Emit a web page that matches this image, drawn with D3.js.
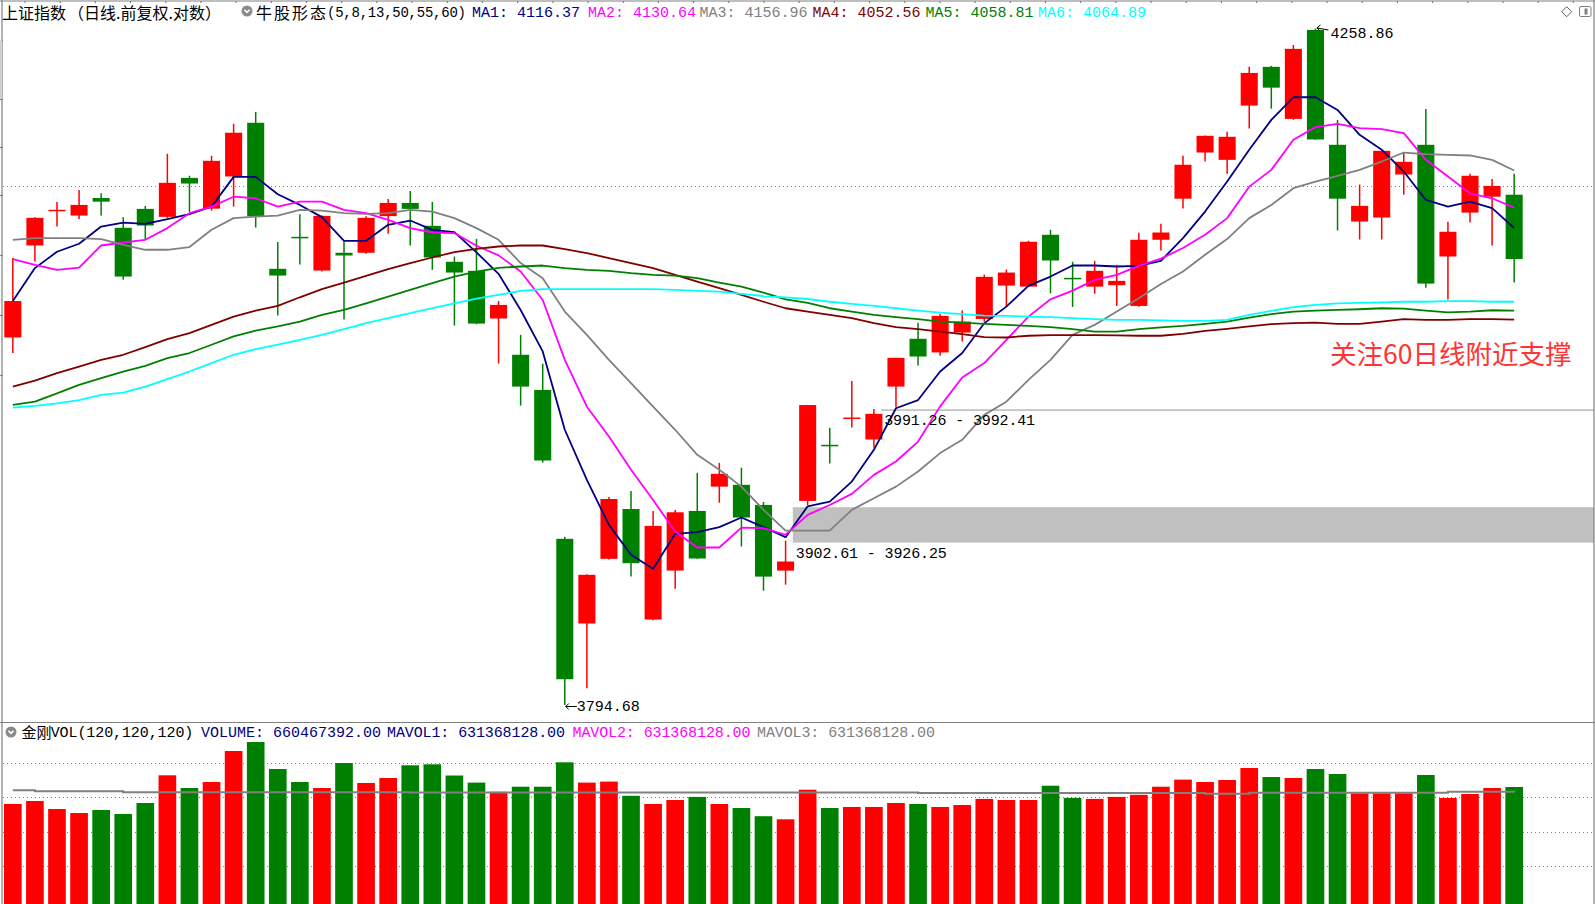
<!DOCTYPE html>
<html>
<head>
<meta charset="utf-8">
<title>上证指数 日线</title>
<style>
html, body { margin: 0; padding: 0; background: #fff; overflow: hidden; }
svg { display: block; }
text { white-space: pre; }
</style>
</head>
<body>
<svg id="mysvg" width="1595" height="904"></svg>
<script src="https://d3js.org/d3.v7.min.js"></script>
<script>

// daily bars, oldest first (前复权)
var opens  = [4040.2,4104.1,4128.4,4125.1,4137.5,4116.5,4129.8,4124.2,4151.7,4130.0,
              4152.7,4190.9,4087.8,4109.8,4086.6,4099.0,4099.0,4124.7,4134.0,4117.9,
              4092.7,4086.4,4053.3,4028.3,4004.2,3903.8,3847.8,3890.5,3923.7,3850.4,
              3882.7,3922.4,3938.7,3939.9,3926.4,3882.7,3929.1,3966.6,3984.7,3970.5,
              4006.5,4039.3,4029.9,4043.6,4053.0,4076.1,4075.4,4111.6,4081.2,4075.4,
              4076.4,4062.0,4108.1,4137.0,4169.7,4164.5,4203.2,4231.1,4193.7,4257.8,
              4175.2,4120.9,4123.7,4154.1,4175.2,4096.4,4127.2,4138.4,4139.8];
var highs  = [4095.3,4124.0,4134.7,4143.2,4140.8,4124.0,4131.9,4168.8,4153.2,4167.4,
              4190.2,4198.7,4106.5,4126.1,4125.2,4106.9,4124.7,4136.8,4142.5,4134.7,
              4096.4,4108.7,4065.4,4042.0,4022.1,3905.1,3880.2,3931.8,3935.8,3922.4,
              3923.1,3948.0,3954.7,3951.4,3928.4,3902.61,3994.0,3978.4,4010.4,3991.26,
              4026.3,4050.3,4056.5,4058.8,4083.8,4087.3,4107.4,4115.1,4092.7,4093.4,
              4090.6,4113.0,4119.3,4167.4,4181.8,4184.5,4231.1,4231.8,4246.9,4258.86,
              4193.0,4147.0,4171.1,4169.3,4200.8,4120.7,4154.6,4151.0,4154.6];
var lows   = [4029.5,4092.9,4117.4,4122.6,4125.1,4080.1,4108.1,4123.5,4127.7,4128.6,
              4131.4,4116.7,4055.3,4090.8,4085.9,4052.6,4098.3,4112.3,4104.1,4087.1,
              4048.4,4049.3,4022.3,3993.5,3954.9,3794.68,3805.6,3890.0,3878.7,3850.0,
              3870.6,3890.5,3927.9,3898.7,3869.4,3873.4,3926.25,3954.3,3978.6,3964.9,
              3992.41,4020.9,4027.6,4037.4,4051.2,4061.1,4075.2,4070.8,4061.3,4070.5,
              4062.0,4061.5,4100.6,4130.0,4163.3,4154.6,4186.8,4201.0,4193.0,4178.8,
              4114.6,4108.3,4108.3,4139.8,4074.7,4066.5,4120.2,4104.1,4078.2];
var closes = [4065.4,4123.5,4128.9,4132.6,4134.9,4082.4,4118.1,4148.2,4147.7,4163.8,
              4183.8,4124.7,4083.1,4109.5,4124.9,4097.1,4123.5,4134.0,4129.8,4095.7,
              4085.2,4049.8,4062.7,4006.5,3956.3,3811.4,3879.9,3930.4,3887.6,3912.4,
              3921.5,3890.7,3947.3,3918.0,3878.7,3888.7,3993.9,3966.2,3985.1,3987.9,
              4026.2,4027.1,4055.1,4051.2,4082.2,4085.2,4106.7,4093.6,4080.8,4086.4,
              4079.4,4108.1,4113.2,4161.0,4181.6,4180.9,4226.7,4216.1,4244.1,4179.0,
              4137.0,4131.9,4170.9,4163.1,4077.5,4113.7,4153.2,4146.0,4094.6];

// 牛股形态(5,8,13,50,55,60) lines as drawn
var ma1 = [4065.4,4088.3,4099.7,4105.3,4117.4,4120.2,4119.3,4122.6,4126.1,4131.4,
           4152.4,4152.4,4140.1,4132.6,4124.0,4107.4,4107.4,4118.6,4121.6,4115.1,
           4113.5,4099.3,4084.3,4059.2,4030.6,3977.1,3943.2,3913.1,3893.2,3883.9,
           3907.1,3908.3,3911.6,3918.0,3911.6,3904.9,3925.5,3928.6,3942.1,3963.5,
           3991.7,3997.3,4016.8,4029.5,4050.0,4061.5,4075.9,4082.4,4090.1,4090.1,
           4089.4,4089.9,4093.4,4109.3,4127.9,4149.1,4171.7,4193.0,4209.2,4209.2,
           4200.1,4182.3,4171.7,4156.2,4136.1,4131.4,4134.9,4130.3,4116.37];
var ma2 = [4094.6,4090.6,4087.1,4088.7,4104.1,4106.2,4108.1,4116.3,4126.8,4131.4,
           4138.4,4137.3,4131.4,4134.9,4134.9,4129.1,4126.8,4122.1,4116.3,4113.2,
           4112.8,4103.9,4097.2,4085.9,4066.1,4024.8,3992.8,3972.5,3950.0,3929.7,
           3908.7,3898.0,3898.0,3911.3,3910.9,3906.5,3919.8,3926.4,3933.8,3946.6,
           3955.6,3969.1,3993.0,4012.7,4022.6,4038.6,4054.6,4066.6,4072.6,4080.1,
           4083.6,4089.9,4094.9,4102.3,4111.6,4123.3,4145.5,4157.4,4178.8,4187.8,
           4190.2,4187.1,4186.4,4183.5,4164.5,4152.7,4140.8,4137.3,4130.64];
var ma3 = [4108.1,4109.3,4109.3,4109.3,4108.6,4104.6,4101.1,4101.1,4103.0,4115.1,
           4123.3,4124.4,4125.1,4129.1,4128.6,4126.8,4126.3,4126.8,4129.1,4127.9,
           4123.3,4116.3,4108.1,4091.8,4081.3,4058.1,4042.0,4024.8,4008.8,3992.8,
           3977.1,3960.1,3950.0,3938.7,3923.1,3909.3,3909.3,3909.3,3923.1,3930.9,
           3938.7,3948.9,3961.3,3970.3,3987.2,3996.2,4011.1,4024.8,4042.0,4048.9,
           4058.1,4067.3,4077.2,4085.9,4097.6,4108.6,4123.3,4132.6,4144.4,4149.1,
           4153.2,4157.4,4163.3,4169.7,4168.6,4168.1,4167.6,4164.5,4156.96];
var ma4 = [4006.5,4010.6,4015.7,4020.2,4024.8,4028.3,4033.6,4039.1,4043.2,4048.9,
           4054.6,4058.8,4062.0,4068.0,4073.6,4078.2,4082.9,4087.6,4091.8,4095.7,
           4099.5,4101.7,4103.4,4104.1,4104.1,4101.6,4098.8,4095.3,4091.8,4088.3,
           4083.6,4078.9,4074.3,4069.6,4064.9,4060.4,4058.1,4055.8,4053.5,4050.1,
           4047.3,4046.0,4044.3,4042.5,4040.5,4040.2,4041.4,4041.8,4041.8,4041.8,
           4041.6,4041.4,4041.4,4042.7,4044.8,4046.2,4047.8,4049.4,4050.1,4050.5,
           4049.6,4049.6,4051.2,4052.8,4052.4,4052.4,4052.8,4052.8,4052.56];
var ma5 = [3994.0,3996.2,4001.9,4007.7,4012.3,4016.8,4020.7,4026.0,4029.5,4035.2,
           4040.9,4045.0,4047.8,4051.2,4055.8,4059.2,4063.8,4068.4,4073.1,4077.8,
           4082.4,4085.9,4088.5,4089.4,4090.1,4088.3,4087.1,4086.4,4084.8,4083.6,
           4083.1,4081.3,4078.2,4075.4,4071.2,4066.6,4064.1,4060.4,4058.1,4055.8,
           4054.2,4052.8,4051.2,4050.5,4049.6,4048.9,4048.2,4047.3,4046.0,4044.3,
           4044.3,4046.0,4047.2,4048.2,4049.6,4051.2,4053.9,4056.3,4058.1,4058.8,
           4059.2,4059.7,4060.4,4060.1,4058.8,4057.6,4058.1,4059.0,4058.81];
var ma6 = [3992.1,3993.3,3995.1,3997.3,4000.8,4002.4,4006.5,4011.6,4016.8,4022.6,
           4028.3,4032.2,4035.2,4038.6,4042.0,4046.0,4050.1,4053.5,4057.0,4060.4,
           4063.8,4067.0,4069.6,4072.4,4073.6,4073.6,4073.6,4073.6,4073.6,4073.6,
           4073.1,4072.4,4071.9,4070.3,4068.9,4068.0,4066.8,4064.9,4063.4,4062.0,
           4060.4,4058.8,4057.4,4056.3,4055.3,4055.1,4054.6,4054.2,4053.5,4052.8,
           4052.4,4052.4,4052.0,4051.7,4051.7,4052.4,4055.8,4058.5,4061.1,4062.7,
           4063.8,4064.1,4064.5,4064.9,4064.9,4065.4,4065.4,4064.9,4064.89];
var maNames  = ["MA1","MA2","MA3","MA4","MA5","MA6"];
var maColors = ["#000080","#ff00ff","#808080","#800000","#008000","#00ffff"];

// 金刚VOL(120,120,120)
var volumes = [564100000,581100000,535700000,513000000,530100000,507400000,569700000,726800000,654800000,688800000,
               864500000,915500000,762500000,688800000,654800000,796500000,683100000,711500000,783500000,789100000,
               725600000,685400000,633200000,662100000,662100000,800500000,685400000,691100000,610600000,564100000,
               586700000,604300000,564100000,541400000,494900000,477300000,645100000,541400000,547100000,547100000,
               569700000,564100000,547100000,558400000,593000000,586700000,586700000,667800000,598700000,593000000,
               604300000,616200000,662100000,702400000,688800000,700100000,768200000,717100000,711500000,762500000,
               734100000,624700000,624700000,624700000,728500000,598100000,620800000,655000000,660467392];
var mavol = [641700000,636100000,636100000,636100000,636100000,630400000,630400000,630400000,630400000,630400000,
             630400000,630400000,630400000,630400000,630400000,630400000,630400000,630400000,629300000,629300000,
             629300000,629300000,629300000,629300000,629300000,629300000,629300000,629300000,629300000,629300000,
             629300000,629300000,629300000,629300000,629300000,629300000,629300000,629300000,629300000,629300000,
             629300000,627000000,627000000,627000000,627000000,627000000,627000000,627000000,627000000,627000000,
             627000000,627000000,627000000,627000000,622500000,622500000,628100000,628100000,628100000,628100000,
             628100000,628100000,628100000,628100000,628100000,633800000,633800000,633800000,631368128];
var volNames = ["MAVOL1","MAVOL2","MAVOL3"];
var volColors = ["#000080","#ff00ff","#808080"];

var priceGrid = [4146.0];
var volGrid = [212600000, 405300000, 603800000, 796500000];
// price gaps: [lower edge, upper edge, bar that opened the gap]
var gaps = [[3902.61, 3926.25, 36], [3991.26, 3992.41, 40]];
var note = "关注60日线附近支撑";

var CJK = "'Noto Sans CJK SC', 'Noto Sans', sans-serif";
var MONO = "'Liberation Mono', 'DejaVu Sans Mono', monospace";

var n = closes.length;
var svg = d3.select("#mysvg");

var x = d3.scaleBand().domain(d3.range(n)).range([4, 1523]).paddingInner(0.2).paddingOuter(0);
var xc = function(i){ return x(i) + x.bandwidth() / 2; };
var y = d3.scaleLog().domain([3794.68, 4258.86]).range([705, 28.5]);
var yv = d3.scaleLinear().domain([0, 1029000000]).range([903.5, 722]);
var up = function(i){ return closes[i] >= opens[i]; };
var col = function(i){ return up(i) ? "#ff0000" : "#008000"; };

svg.append("rect").attr("width", 1595).attr("height", 904).attr("fill", "#fff");

// dotted grid
svg.selectAll(".pg").data(priceGrid).enter().append("line")
   .attr("x1", 3).attr("x2", 1594)
   .attr("y1", function(d){ return Math.round(y(d)) + 0.5; })
   .attr("y2", function(d){ return Math.round(y(d)) + 0.5; })
   .attr("stroke", "#808080").attr("stroke-dasharray", "1,3");
svg.selectAll(".vg").data(volGrid).enter().append("line")
   .attr("x1", 3).attr("x2", 1594)
   .attr("y1", function(d){ return Math.round(yv(d)) + 0.5; })
   .attr("y2", function(d){ return Math.round(yv(d)) + 0.5; })
   .attr("stroke", "#808080").attr("stroke-dasharray", "1,3");

// gap bands
svg.selectAll(".gap").data(gaps).enter().append("rect")
   .attr("x", function(d){ return x(d[2]) - 6; })
   .attr("width", function(d){ return 1594 - (x(d[2]) - 6); })
   .attr("y", function(d){ return y(d[1]) + 2; })
   .attr("height", function(d){ return Math.max(1.5, y(d[0]) - y(d[1])); })
   .attr("fill", "#c0c0c0");

// candles
var idx = d3.range(n);
svg.selectAll(".wick").data(idx).enter().append("line")
   .attr("x1", xc).attr("x2", xc)
   .attr("y1", function(i){ return y(highs[i]); })
   .attr("y2", function(i){ return y(lows[i]); })
   .attr("stroke", col).attr("stroke-width", 1.5);
var bw = x.bandwidth() - 0.6;
svg.selectAll(".body").data(idx).enter().append("rect")
   .attr("x", function(i){ return xc(i) - bw / 2; })
   .attr("width", bw)
   .attr("y", function(i){
      var t = y(Math.max(opens[i], closes[i])), b = y(Math.min(opens[i], closes[i]));
      return b - t < 1.5 ? (t + b) / 2 - 0.75 : t; })
   .attr("height", function(i){ return Math.max(1.5, y(Math.min(opens[i], closes[i])) - y(Math.max(opens[i], closes[i]))); })
   .attr("fill", col);

// moving averages
var line = d3.line().x(function(d, i){ return xc(i); }).y(function(d){ return y(d); });
[ma1, ma2, ma3, ma4, ma5, ma6].forEach(function(s, k){
  svg.append("path").attr("d", line(s)).attr("fill", "none")
     .attr("stroke", maColors[k]).attr("stroke-width", 1.8).attr("stroke-linejoin", "round");
});

// volume
svg.selectAll(".vol").data(idx).enter().append("rect")
   .attr("x", function(i){ return x(i); })
   .attr("width", x.bandwidth())
   .attr("y", function(i){ return yv(volumes[i]); })
   .attr("height", function(i){ return 905 - yv(volumes[i]); })
   .attr("fill", col);
var vline = d3.line().x(function(d, i){ return xc(i); }).y(function(d){ return yv(d); }).curve(d3.curveStepAfter);
svg.append("path").attr("d", vline(mavol)).attr("fill", "none")
   .attr("stroke", "#808080").attr("stroke-width", 2);

// frame
var frame = svg.append("g").attr("stroke", "#808080").attr("stroke-width", 1.2).attr("fill", "none");
frame.append("line").attr("x1", 0).attr("x2", 1595).attr("y1", 1).attr("y2", 1);
frame.append("line").attr("x1", 0).attr("x2", 1595).attr("y1", 722.5).attr("y2", 722.5);
frame.append("line").attr("x1", 2).attr("x2", 2).attr("y1", 0).attr("y2", 904);
frame.append("line").attr("x1", 1594).attr("x2", 1594).attr("y1", 0).attr("y2", 904);
d3.range(45).forEach(function(k){
  frame.append("line").attr("x1", 25 + 35.19 * k).attr("x2", 25 + 35.19 * k).attr("y1", 1).attr("y2", 3);
});
[40, 99, 147, 195, 255, 315, 375].forEach(function(t){
  frame.append("line").attr("x1", 0).attr("x2", 3).attr("y1", t + 0.5).attr("y2", t + 0.5);
});
svg.append("rect").attr("x", 0).attr("y", 40).attr("width", 2).attr("height", 59).attr("fill", "#d0d0d0");

// top-right buttons
svg.append("path").attr("d", "M1566.7,6.7 L1571.7,11.7 L1566.7,16.7 L1561.7,11.7 Z")
   .attr("fill", "#fff").attr("stroke", "#606060");
svg.append("rect").attr("x", 1579.5).attr("y", 6.5).attr("width", 11.5).attr("height", 10)
   .attr("rx", 1.5).attr("fill", "#fff").attr("stroke", "#808080");
svg.append("rect").attr("x", 1584.5).attr("y", 8.5).attr("width", 3).attr("height", 6).attr("fill", "#808080");

function txt(str, px, py, font, size, color, len){
  var t = svg.append("text").attr("x", px).attr("y", py).text(str)
     .attr("font-family", font).attr("font-size", size).attr("fill", color);
  if (len) t.attr("textLength", len).attr("lengthAdjust", "spacing");
  return t;
}
function dropIcon(cx, cy){
  svg.append("circle").attr("cx", cx).attr("cy", cy).attr("r", 5.5).attr("fill", "#8a8a8a");
  svg.append("path").attr("d", "M" + (cx - 2.6) + "," + (cy - 1.2) + " L" + cx + "," + (cy + 1.4) + " L" + (cx + 2.6) + "," + (cy - 1.2))
     .attr("fill", "none").attr("stroke", "#fff").attr("stroke-width", 1.6);
}

// main header
txt("上证指数", 2, 18.5, CJK, 16, "#000");
txt("（日线.前复权.对数）", 68, 18.5, CJK, 16, "#000");
dropIcon(247, 11);
txt("牛股形态", 256, 18.5, CJK, 16, "#000").attr("letter-spacing", 2);
txt("(5,8,13,50,55,60)", 327, 17, MONO, 14, "#000", 139);
var maX = [472, 588, 699.5, 812.5, 925.5, 1038];
[ma1, ma2, ma3, ma4, ma5, ma6].forEach(function(s, k){
  txt(maNames[k] + ": " + s[n - 1].toFixed(2), maX[k], 17, MONO, 15, maColors[k], 108);
});

// volume header
dropIcon(11, 732);
txt("金刚", 21.5, 737.5, CJK, 15, "#000");
txt("VOL(120,120,120)", 50.7, 737, MONO, 15, "#000", 142.6);
txt("VOLUME: " + volumes[n - 1].toFixed(2), 201, 737, MONO, 15, "#000080", 180);
var vX = [387, 572.5, 757];
volNames.forEach(function(nm, k){
  txt(nm + ": " + mavol[n - 1].toFixed(2), vX[k], 737, MONO, 15, volColors[k], 178);
});

// high / low markers
var hi = d3.maxIndex(highs), lo = d3.minIndex(lows);
var hx = xc(hi), hy = y(highs[hi]);
svg.append("path").attr("d", "M" + (hx + 1.5) + "," + (hy - 0.5) + " L" + (hx + 13) + "," + (hy + 1.5)
      + " M" + (hx + 1.5) + "," + (hy - 0.5) + " L" + (hx + 5) + "," + (hy - 3.5)
      + " M" + (hx + 1.5) + "," + (hy - 0.5) + " L" + (hx + 4.5) + "," + (hy + 2.5))
   .attr("stroke", "#000").attr("fill", "none").attr("stroke-width", 1);
txt(highs[hi].toFixed(2), hx + 15, hy + 9, MONO, 15, "#000");
var lx = xc(lo), ly = y(lows[lo]);
svg.append("path").attr("d", "M" + (lx + 1) + "," + (ly + 1.5) + " L" + (lx + 12) + "," + (ly + 1.5)
      + " M" + (lx + 1) + "," + (ly + 1.5) + " L" + (lx + 4) + "," + (ly - 1.5)
      + " M" + (lx + 1) + "," + (ly + 1.5) + " L" + (lx + 4) + "," + (ly + 4.5))
   .attr("stroke", "#000").attr("fill", "none").attr("stroke-width", 1);
txt(lows[lo].toFixed(2), lx + 12, ly + 5.5, MONO, 15, "#000");

// gap labels
gaps.forEach(function(g, k){
  txt(g[0].toFixed(2) + " - " + g[1].toFixed(2), x(g[2]) - 3, y(g[0]) + (k === 0 ? 17.5 : 16.5), MONO, 15, "#000", 151);
});

// annotation
txt(note, 1330, 364, CJK, 26.5, "#ff3333");

</script>
</body>
</html>
